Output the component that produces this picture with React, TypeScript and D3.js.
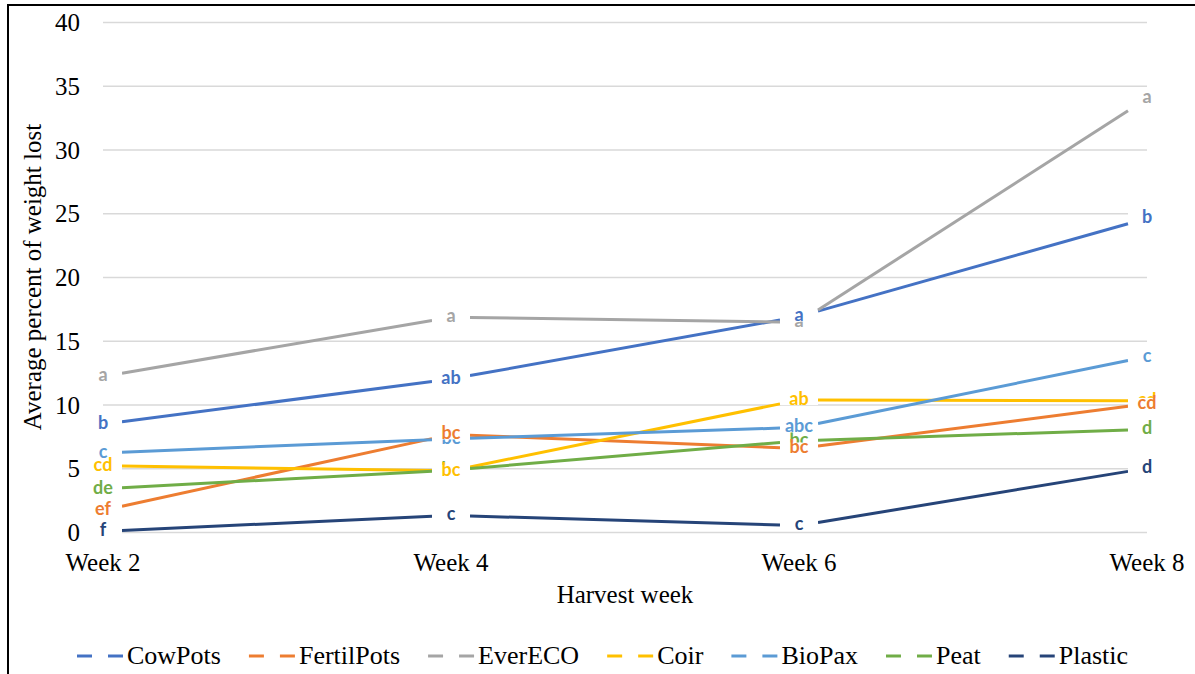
import { axisLeft, line, scaleLinear, scalePoint, select } from 'd3';
import * as React from 'react';

const weeks = ["Week 2", "Week 4", "Week 6", "Week 8"];
const yTicks = [0, 5, 10, 15, 20, 25, 30, 35, 40];

const seriesNames = ["CowPots", "FertilPots", "EverECO", "Coir", "BioPax", "Peat", "Plastic"];

const cowPots = [8.45, 12.0, 16.9, 24.6];
const fertilPots = [1.7, 7.65, 6.55, 10.05];
const everEco = [12.2, 16.85, 16.45, 34.0];
const coir = [5.2, 4.8, 10.35, 10.3];
const bioPax = [6.2, 7.3, 8.2, 13.75];
const peat = [3.4, 4.85, 7.15, 8.05];
const plastic = [0.05, 1.3, 0.5, 5.0];

const cowPotsLabels = ["b", "ab", "a", "b"];
const fertilPotsLabels = ["ef", "bc", "bc", "cd"];
const everEcoLabels = ["a", "a", "a", "a"];
const coirLabels = ["cd", "bc", "ab", "cd"];
const bioPaxLabels = ["c", "bc", "abc", "c"];
const peatLabels = ["de", "bc", "bc", "d"];
const plasticLabels = ["f", "c", "c", "d"];

const colors: { [key: string]: string } = {
    "CowPots": "#4472c4",
    "FertilPots": "#ed7d31",
    "EverECO": "#a5a5a5",
    "Coir": "#ffc000",
    "BioPax": "#5b9bd5",
    "Peat": "#70ad47",
    "Plastic": "#264478"
}

const values = [cowPots, fertilPots, everEco, coir, bioPax, peat, plastic];
const labels = [cowPotsLabels, fertilPotsLabels, everEcoLabels, coirLabels, bioPaxLabels, peatLabels, plasticLabels];

const W = 1195;
const H = 674;
const serif = "'Liberation Serif', 'Times New Roman', serif";
const GAP = 19; // half width of the blank left around each data label

const App = () => {
    const svgRef = React.useRef<SVGSVGElement>(null);

    React.useEffect(() => {
        const svg = select(svgRef.current);
        svg.selectAll("*").remove();

        // frame of the original picture (left + top edges)
        svg.append("path")
            .attr("d", `M8,${H} V5 H${W}`)
            .attr("fill", "none")
            .attr("stroke", "#000")
            .attr("stroke-width", 2);

        const xScale = scalePoint().domain(weeks).range([103, 1147]);
        const yScale = scaleLinear().domain([0, 40]).range([532, 22]);

        // gridlines + y labels
        const yAxis = svg.append("g")
            .attr("transform", "translate(103,0)")
            .call(axisLeft(yScale).tickValues(yTicks).tickSize(-(1147 - 103)).tickPadding(23) as any);
        yAxis.select(".domain").remove();
        yAxis.selectAll(".tick line").attr("stroke", "#d9d9d9").attr("stroke-width", 1.3);
        yAxis.selectAll(".tick text")
            .attr("font-family", serif)
            .attr("font-size", 25)
            .attr("fill", "#000")
            .attr("dy", "0.34em");

        // x labels
        svg.append("g").selectAll("text")
            .data(weeks)
            .join("text")
            .attr("x", (d) => xScale(d)!)
            .attr("y", 571)
            .attr("text-anchor", "middle")
            .attr("font-family", serif)
            .attr("font-size", 25)
            .text((d) => d);

        // axis titles
        svg.append("text")
            .attr("x", 625)
            .attr("y", 603)
            .attr("text-anchor", "middle")
            .attr("font-family", serif)
            .attr("font-size", 25)
            .text("Harvest week");
        svg.append("text")
            .attr("transform", `translate(41,${(22 + 532) / 2}) rotate(-90)`)
            .attr("text-anchor", "middle")
            .attr("font-family", serif)
            .attr("font-size", 25)
            .text("Average percent of weight lost");

        // lines, broken around each point where the label sits
        const lineGen = line<[number, number]>();
        const lines = svg.append("g");
        values.forEach((vals, s) => {
            for (let i = 0; i < vals.length - 1; i++) {
                const x0 = xScale(weeks[i])!, y0 = yScale(vals[i]);
                const x1 = xScale(weeks[i + 1])!, y1 = yScale(vals[i + 1]);
                const t = GAP / (x1 - x0);
                const seg: [number, number][] = [
                    [x0 + t * (x1 - x0), y0 + t * (y1 - y0)],
                    [x1 - t * (x1 - x0), y1 - t * (y1 - y0)]
                ];
                lines.append("path")
                    .attr("d", lineGen(seg))
                    .attr("fill", "none")
                    .attr("stroke", colors[seriesNames[s]])
                    .attr("stroke-width", 3)
                    .attr("stroke-linecap", "butt");
            }
        });

        // data labels centred on the points, each on a white box;
        // drawn last series first so the earlier series sit on top
        const lab = svg.append("g");
        for (let s = values.length - 1; s >= 0; s--) {
            values[s].forEach((v, i) => {
                const cx = xScale(weeks[i])!;
                const cy = yScale(v);
                lab.append("rect")
                    .attr("x", cx - GAP)
                    .attr("y", cy - 6)
                    .attr("width", GAP * 2)
                    .attr("height", 11)
                    .attr("fill", "#fff");
                lab.append("text")
                    .attr("x", cx)
                    .attr("y", cy)
                    .attr("dy", "0.27em")
                    .attr("text-anchor", "middle")
                    .attr("font-family", "Lato, 'Open Sans', sans-serif")
                    .attr("font-weight", 700)
                    .attr("font-size", 18)
                    .attr("fill", colors[seriesNames[s]])
                    .text(labels[s][i]);
            });
        }

        // legend
        const legend = svg.append("g").attr("transform", "translate(77,664)");
        let cursor = 0;
        seriesNames.forEach((name) => {
            const g = legend.append("g").attr("transform", `translate(${cursor},0)`);
            g.append("line").attr("x1", 0).attr("x2", 15).attr("y1", -8).attr("y2", -8)
                .attr("stroke", colors[name]).attr("stroke-width", 3);
            g.append("line").attr("x1", 31).attr("x2", 46).attr("y1", -8).attr("y2", -8)
                .attr("stroke", colors[name]).attr("stroke-width", 3);
            const t = g.append("text")
                .attr("x", 50)
                .attr("font-family", serif)
                .attr("font-size", 26)
                .text(name);
            cursor += 50 + (t.node() as SVGTextElement).getComputedTextLength() + 28;
        });
    }, []);

    return (
        <div style={{ position: 'absolute', left: 0, top: 0, width: W, height: H, background: '#fff' }}>
            <svg ref={svgRef} width={W} height={H} style={{ display: 'block' }} />
        </div>
    );
}

export default App;
